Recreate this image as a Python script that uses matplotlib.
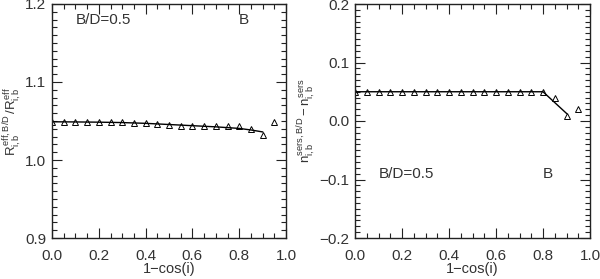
import numpy as np
import matplotlib
matplotlib.use("Agg")
import matplotlib.pyplot as plt
from matplotlib.ticker import MultipleLocator

# data
x_pts = [0.0, 0.05, 0.1, 0.15, 0.2, 0.25, 0.3, 0.35, 0.4, 0.45, 0.5,
         0.55, 0.6, 0.65, 0.7, 0.75, 0.8, 0.85, 0.9, 0.95]

r_pts = [1.049, 1.0487, 1.049, 1.049, 1.049, 1.049, 1.049, 1.048, 1.047, 1.046,
         1.045, 1.044, 1.043, 1.043, 1.043, 1.044, 1.043, 1.040, 1.032, 1.049]
r_line_x = [0.0, 0.1, 0.2, 0.3, 0.4, 0.5, 0.6, 0.7, 0.8, 0.85, 0.9]
r_line_y = [1.049, 1.0488, 1.0485, 1.048, 1.047, 1.0455, 1.0440, 1.0425, 1.0405, 1.0385, 1.0360]

n_pts = [0.05] * 17 + [0.039, 0.009, 0.021]
n_line_x = [0.0, 0.8, 0.9]
n_line_y = [0.05, 0.05, 0.013]

TXT = '#333333'
plt.rcParams['font.family'] = ['Liberation Sans', 'DejaVu Sans']
plt.rcParams['mathtext.fontset'] = 'custom'
plt.rcParams['mathtext.rm'] = 'Liberation Sans'
plt.rcParams['mathtext.it'] = 'Liberation Sans'

fig = plt.figure(figsize=(6.0, 2.79), dpi=100)
ax1 = fig.add_axes([52 / 600, 41 / 279, 234 / 600, 234 / 279])
ax2 = fig.add_axes([355 / 600, 41 / 279, 235 / 600, 234 / 279])


def style(ax, ymin, ymax):
    ax.set_xlim(0, 1)
    ax.set_ylim(ymin, ymax)
    ax.xaxis.set_major_locator(MultipleLocator(0.2))
    ax.xaxis.set_minor_locator(MultipleLocator(0.05))
    ax.yaxis.set_major_locator(MultipleLocator(0.1))
    ax.yaxis.set_minor_locator(MultipleLocator(0.01))
    ax.tick_params(which='both', direction='in', top=True, right=True,
                   colors='#222222', labelcolor=TXT, labelsize=11)
    ax.tick_params(axis='x', pad=8)
    ax.tick_params(axis='y', pad=4)
    ax.tick_params(which='major', length=7, width=0.8)
    ax.tick_params(which='minor', length=3.5, width=0.8)
    ax.xaxis.set_major_formatter(plt.FuncFormatter(lambda v, p: f"{v:.1f}"))
    ax.yaxis.set_major_formatter(plt.FuncFormatter(lambda v, p: f"{v:.1f}".replace('-', '\u2212')))
    for s in ax.spines.values():
        s.set_linewidth(1.0)
        s.set_color('#222222')
    ax.set_xlabel('1\u2212cos(i)', fontsize=10.5, color=TXT, labelpad=-1)


style(ax1, 0.9, 1.2)
ax1.plot(r_line_x, r_line_y, color='black', lw=1.0)
ax1.plot(x_pts, r_pts, ls='none', marker='^', ms=5, mfc='none', mec='black', mew=0.7)
ax1.text(0.1, 1.18, 'B/D=0.5', fontsize=11, color=TXT, va='center')
ax1.text(0.8, 1.18, 'B', fontsize=11, color=TXT, va='center')
ax1.set_ylabel(r'$R^{\rm eff,B/D}_{\rm i,b}\,/R^{\rm eff}_{\rm i,b}$', fontsize=9.5,
               color=TXT, labelpad=1)

style(ax2, -0.2, 0.2)
ax2.plot(n_line_x, n_line_y, color='black', lw=1.0)
ax2.plot(x_pts, n_pts, ls='none', marker='^', ms=5, mfc='none', mec='black', mew=0.7)
ax2.text(0.1, -0.09, 'B/D=0.5', fontsize=11, color=TXT, va='center')
ax2.text(0.8, -0.09, 'B', fontsize=11, color=TXT, va='center')
ax2.set_ylabel(r'$n^{\rm sers,B/D}_{\rm i,b}-n^{\rm sers}_{\rm i,b}$', fontsize=9.5,
               color=TXT, labelpad=1)

fig.savefig('out.png', dpi=100)
